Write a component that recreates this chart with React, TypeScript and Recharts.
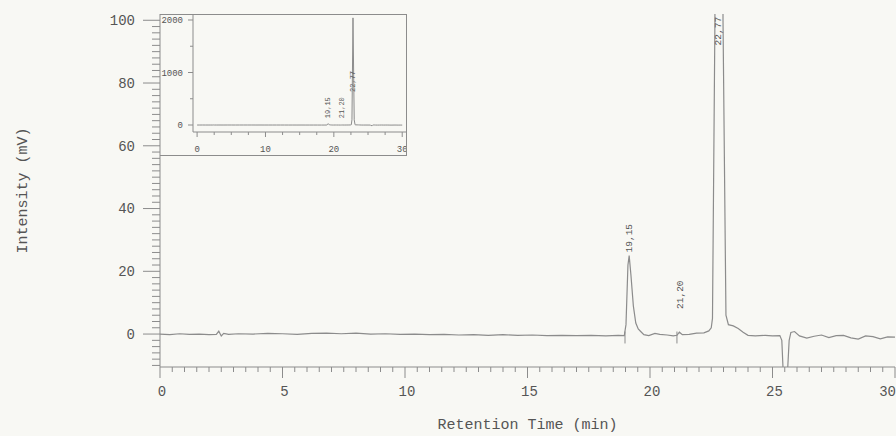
import {
  LineChart, Line, XAxis, YAxis, ReferenceDot, ReferenceLine,
} from 'recharts'

// chromatogram trace (time in min, signal in mV)
const timeMin = [
  0.0, 0.4, 0.8, 1.2, 1.6, 2.0, 2.3, 2.4, 2.5, 2.6, 2.8, 3.2, 3.8, 4.4, 5.0,
  5.6, 6.2, 6.8, 7.4, 8.0, 8.6, 9.2, 9.8, 10.4, 11.0, 11.6, 12.2, 12.8, 13.4,
  14.0, 14.6, 15.2, 15.8, 16.4, 17.0, 17.6, 18.2, 18.7, 18.95, 19.02, 19.1,
  19.15, 19.22, 19.32, 19.42, 19.52, 19.62, 19.75, 19.95, 20.2, 20.4, 20.7,
  20.95, 21.1, 21.2, 21.32, 21.6, 21.9, 22.2, 22.4, 22.5, 22.55, 22.65, 22.8,
  22.98, 23.1, 23.2, 23.4, 23.6, 23.8, 24.0, 24.3, 24.7, 25.0, 25.3, 25.38,
  25.43, 25.62, 25.68, 25.75, 25.9, 26.1, 26.4, 26.7, 27.0, 27.3, 27.6, 27.9,
  28.2, 28.5, 28.8, 29.1, 29.4, 29.7, 30.0,
]
const signalMv = [
  0.0, -0.2, 0.1, -0.1, 0.0, -0.2, -0.1, 0.9, -0.6, 0.2, -0.1, 0.1, 0.0, 0.2, 0.1,
  -0.1, 0.2, 0.3, 0.1, 0.3, 0.0, 0.1, -0.1, 0.0, -0.2, -0.1, -0.3, -0.2, -0.4,
  -0.2, -0.4, -0.3, -0.5, -0.4, -0.5, -0.4, -0.6, -0.4, -0.5, 3.0, 22.0,
  25.0, 19.0, 9.0, 3.5, 1.6, 0.8, -0.2, -0.5, 0.2, -0.1, -0.3,
  -0.6, -0.4, 0.6, -0.2, -0.1, 0.3, 0.4, 1.0, 2.0, 5.0, 100, 2040,
  100, 6.0, 3.0, 2.6, 1.8, 0.6, -0.4, -0.6, -0.4, -0.6, -0.5, -2.0,
  -11, -11, -2.0, 0.5, 0.8, -0.6, -1.3, -0.7, -0.3, -1.1, -0.5, -0.4,
  -1.2, -1.6, -0.6, -0.8, -1.5, -0.9, -1.0,
]

// peak retention-time labels
const peakTimes = [19.15, 21.2, 22.77]
const peakNames = ['19,15', '21,20', '22,77']
const peakLabelLevel = [26, 8, 92] // mV, where the label sits in the main plot
const insetLabelLevel = [130, 130, 630] // mV, inset scale

// integration start marks
const markTimes = [18.98, 21.1]

const MAIN_X_TICKS = [
  0, 0.5, 1, 1.5, 2, 2.5, 3, 3.5, 4, 4.5, 5, 5.5, 6, 6.5, 7, 7.5, 8, 8.5, 9, 9.5,
  10, 10.5, 11, 11.5, 12, 12.5, 13, 13.5, 14, 14.5, 15, 15.5, 16, 16.5, 17, 17.5,
  18, 18.5, 19, 19.5, 20, 20.5, 21, 21.5, 22, 22.5, 23, 23.5, 24, 24.5, 25, 25.5,
  26, 26.5, 27, 27.5, 28, 28.5, 29, 29.5, 30,
]
const MAIN_X_LABELS = [0, 5, 10, 15, 20, 25, 30]
const MAIN_Y_TICKS = [
  -10, -8, -6, -4, -2, 0, 2, 4, 6, 8, 10, 12, 14, 16, 18, 20, 22, 24, 26, 28, 30,
  32, 34, 36, 38, 40, 42, 44, 46, 48, 50, 52, 54, 56, 58, 60, 62, 64, 66, 68, 70,
  72, 74, 76, 78, 80, 82, 84, 86, 88, 90, 92, 94, 96, 98, 100,
]
const MAIN_Y_LABELS = [0, 20, 40, 60, 80, 100]
const INSET_X_TICKS = [0, 2.5, 5, 7.5, 10, 12.5, 15, 17.5, 20, 22.5, 25, 27.5, 30]
const INSET_X_LABELS = [0, 10, 20, 30]
const INSET_Y_TICKS = [0, 500, 1000, 1500, 2000]
const INSET_Y_LABELS = [0, 1000, 2000]

const data = timeMin.map((t, i) => ({ t, v: signalMv[i] }))

const BG = '#f8f8f4'
const INK = '#8c8c8c'
const TEXT = '#555555'
const FONT = '"Liberation Mono", "DejaVu Sans Mono", monospace'

function MainXTick(props: any) {
  const { x, y, payload, index } = props
  const major = MAIN_X_LABELS.includes(payload.value)
  const last = index === MAIN_X_TICKS.length - 1
  return (
    <g>
      <line x1={x} x2={x} y1={y} y2={y + (major ? 11 : 5)} stroke={INK} />
      {major && (
        <text
          x={last ? x + 1 : x + 2}
          y={y + 29}
          textAnchor={last ? 'end' : 'middle'}
          fontSize={14}
          fontFamily={FONT}
          fill={TEXT}
        >
          {payload.value}
        </text>
      )}
    </g>
  )
}

function MainYTick(props: any) {
  const { x, y, payload } = props
  const major = MAIN_Y_LABELS.includes(payload.value)
  return (
    <g>
      <line x1={x - (major ? 17 : 8)} x2={x} y1={y} y2={y} stroke={INK} />
      {major && (
        <text x={x - 25} y={y} dy="0.35em" textAnchor="end" fontSize={14} fontFamily={FONT} fill={TEXT}>
          {payload.value}
        </text>
      )}
    </g>
  )
}

function InsetXTick(props: any) {
  const { x, y, payload } = props
  const major = INSET_X_LABELS.includes(payload.value)
  return (
    <g>
      <line x1={x} x2={x} y1={y} y2={y + (major ? 5 : 3)} stroke={INK} />
      {major && (
        <text x={x} y={y + 20} textAnchor="middle" fontSize={9} fontFamily={FONT} fill={TEXT}>
          {payload.value}
        </text>
      )}
    </g>
  )
}

function InsetYTick(props: any) {
  const { x, y, payload } = props
  const major = INSET_Y_LABELS.includes(payload.value)
  return (
    <g>
      <line x1={x - (major ? 5 : 3)} x2={x} y1={y} y2={y} stroke={INK} />
      {major && (
        <text x={x - 10} y={y} dy="0.35em" textAnchor="end" fontSize={9} fontFamily={FONT} fill={TEXT}>
          {payload.value}
        </text>
      )}
    </g>
  )
}

function rotatedLabel(text: string, size: number) {
  return (p: any) => (
    <text
      transform={`rotate(-90 ${p.cx} ${p.cy})`}
      x={p.cx}
      y={p.cy}
      dy="0.35em"
      textAnchor="start"
      fontSize={size}
      fontFamily={FONT}
      fill={TEXT}
    >
      {text}
    </text>
  )
}

function XTitle(p: any) {
  const { x, y, width } = p.viewBox
  return (
    <text x={x + width / 2} y={y + 62} textAnchor="middle" fontSize={15} fontFamily={FONT} fill={TEXT}>
      Retention Time (min)
    </text>
  )
}

function YTitle(p: any) {
  const { y, height } = p.viewBox
  const cx = 22
  const cy = y + height / 2
  return (
    <text
      transform={`rotate(-90 ${cx} ${cy})`}
      x={cx}
      y={cy}
      dy="0.35em"
      textAnchor="middle"
      fontSize={15}
      fontFamily={FONT}
      fill={TEXT}
    >
      Intensity (mV)
    </text>
  )
}

export default function App() {
  return (
    <div style={{ position: 'absolute', left: 0, top: 0, width: 896, height: 436, background: BG }}>
      <LineChart width={896} height={436} data={data} margin={{ top: 14, right: 1, bottom: 0, left: 0 }}>
        <XAxis
          dataKey="t"
          type="number"
          domain={[0, 30]}
          ticks={MAIN_X_TICKS}
          interval={0}
          height={69}
          tickSize={0}
          tickMargin={0}
          tickLine={false}
          tick={<MainXTick />}
          stroke={INK}
          label={<XTitle />}
        />
        <YAxis
          type="number"
          domain={[-10.5, 102]}
          allowDataOverflow
          ticks={MAIN_Y_TICKS}
          interval={0}
          width={160}
          tickSize={0}
          tickMargin={0}
          tickLine={false}
          tick={<MainYTick />}
          stroke={INK}
          label={<YTitle />}
        />
        {markTimes.map((t) => (
          <ReferenceLine
            key={t}
            segment={[{ x: t, y: -3 }, { x: t, y: 0.8 }]}
            stroke={INK}
            ifOverflow="visible"
          />
        ))}
        <Line
          type="linear"
          dataKey="v"
          stroke={INK}
          strokeWidth={1.2}
          dot={false}
          isAnimationActive={false}
        />
        {peakTimes.map((t, i) => (
          <ReferenceDot
            key={t}
            x={t}
            y={peakLabelLevel[i]}
            r={0}
            ifOverflow="visible"
            shape={rotatedLabel(peakNames[i], 9.5)}
          />
        ))}
      </LineChart>

      {/* inset: full-scale view */}
      <div style={{ position: 'absolute', left: 160, top: 14, width: 247, height: 141 }}>
        <LineChart width={247} height={141} data={data} margin={{ top: 0, right: 0, bottom: 0, left: 0 }}>
          <XAxis
            dataKey="t"
            type="number"
            domain={[-0.6, 30.7]}
            ticks={INSET_X_TICKS}
            interval={0}
            height={23}
            tickSize={0}
            tickMargin={0}
            tickLine={false}
            tick={<InsetXTick />}
            stroke={INK}
          />
          <YAxis
            type="number"
            domain={[-133, 2114]}
            allowDataOverflow
            ticks={INSET_Y_TICKS}
            interval={0}
            width={33}
            tickSize={0}
            tickMargin={0}
            tickLine={false}
            tick={<InsetYTick />}
            stroke={INK}
          />
          <Line
            type="linear"
            dataKey="v"
            stroke={INK}
            strokeWidth={1}
            dot={false}
            isAnimationActive={false}
          />
          {peakTimes.map((t, i) => (
            <ReferenceDot
              key={t}
              x={t}
              y={insetLabelLevel[i]}
              r={0}
              ifOverflow="visible"
              shape={rotatedLabel(peakNames[i], 7)}
            />
          ))}
        </LineChart>
        <div
          style={{
            position: 'absolute', left: 0, top: 0, width: 246, height: 140,
            borderTop: `1px solid ${INK}`, borderRight: `1px solid ${INK}`,
            borderBottom: `1px solid ${INK}`, pointerEvents: 'none',
          }}
        />
      </div>
    </div>
  )
}
